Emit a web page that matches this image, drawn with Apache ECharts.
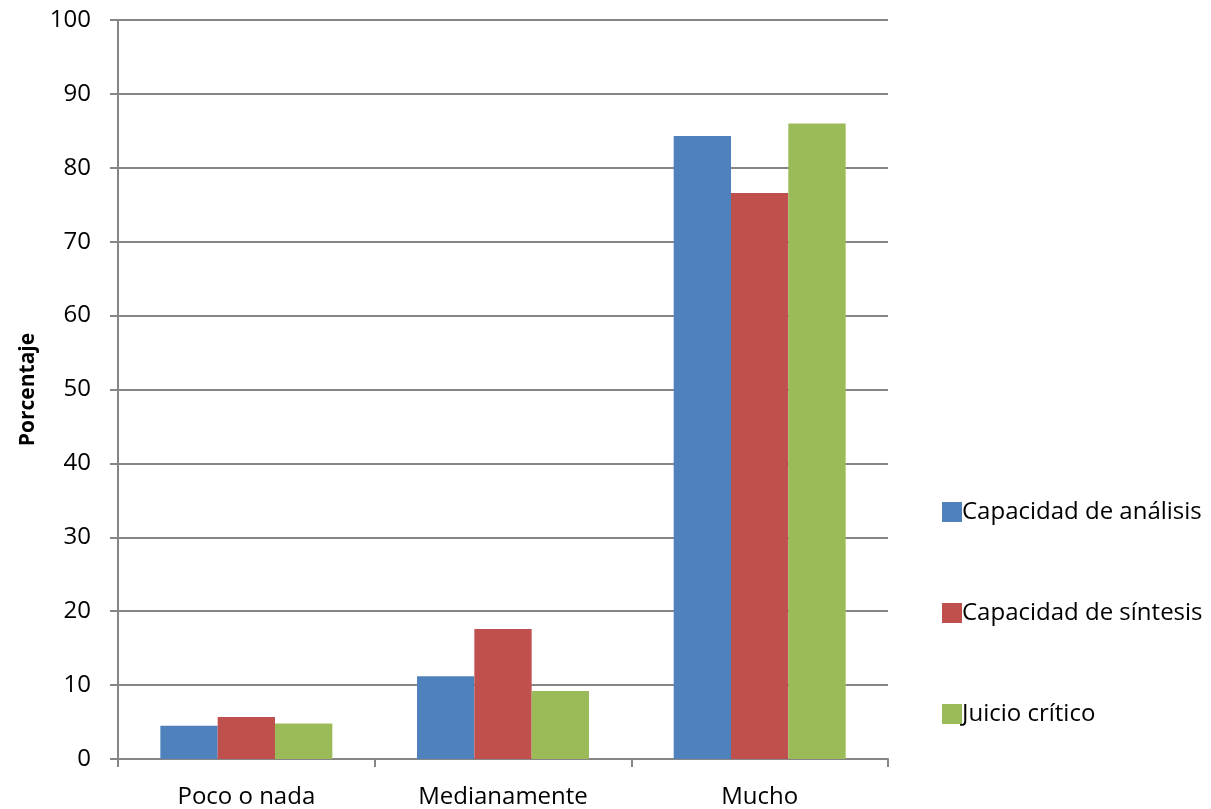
<!DOCTYPE html>
<html><head><meta charset="utf-8">
<script src="https://cdn.jsdelivr.net/npm/echarts@6/dist/echarts.min.js"></script>
<style>html,body{margin:0;padding:0;background:#fff}#c{width:1211px;height:809px}</style>
</head><body><div id="c"></div>
<script>
const categories = ['Poco o nada', 'Medianamente', 'Mucho'];
const analisis = [4.5, 11.2, 84.3];
const sintesis = [5.7, 17.6, 76.6];
const juicio = [4.8, 9.2, 86.0];
const seriesNames = ['Capacidad de análisis', 'Capacidad de síntesis', 'Juicio crítico'];
const colors = ['#4F81BD', '#C0504D', '#9BBB59'];
const font = '"Open Sans", "Liberation Sans", sans-serif';

const chart = echarts.init(document.getElementById('c'));
const data = [analisis, sintesis, juicio];
chart.setOption({
  animation: false,
  grid: {left: 118, right: 323, top: 20, bottom: 50, containLabel: false},
  legend: {
    orient: 'vertical', left: 937, top: 495, itemGap: 77,
    itemWidth: 20, itemHeight: 20, icon: 'rect',
    textStyle: {fontSize: 24, fontFamily: font, color: '#000', padding: [0,0,0,-5]},
    data: seriesNames
  },
  xAxis: {
    type: 'category', data: categories,
    axisLine: {lineStyle: {color: '#868686', width: 2}},
    axisTick: {show: true, length: 8, lineStyle: {color: '#868686', width: 2}},
    axisLabel: {fontSize: 24, fontFamily: font, color: '#000', margin: 26}
  },
  yAxis: {
    type: 'value', min: 0, max: 100, interval: 10,
    name: 'Porcentaje', nameLocation: 'middle', nameGap: 78, nameRotate: 90,
    nameTextStyle: {fontSize: 21, fontWeight: 'bold', fontFamily: font, color: '#000'},
    axisLine: {show: true, lineStyle: {color: '#868686', width: 2}},
    axisTick: {show: true, length: 8, lineStyle: {color: '#868686', width: 2}},
    axisLabel: {fontSize: 24, fontFamily: font, color: '#000', margin: 27},
    splitLine: {lineStyle: {color: '#868686', width: 2}}
  },
  series: data.map((d, i) => ({
    name: seriesNames[i], type: 'bar', data: d,
    barGap: '0%', barCategoryGap: '33%',
    itemStyle: {color: colors[i]}
  }))
});
</script></body></html>
